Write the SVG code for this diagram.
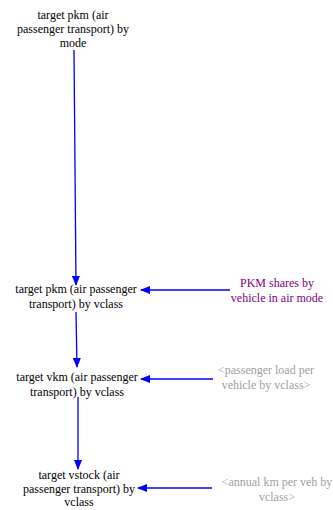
<svg xmlns="http://www.w3.org/2000/svg" width="333" height="510" viewBox="0 0 333 510">
<style>
text{font-family:"Liberation Serif","Times New Roman",serif;font-size:12px;text-anchor:middle}
.n{fill:#000}
.p{fill:#800080}
.g{fill:#a0a0a0}
.c{stroke:#0000ff;stroke-width:1.3;fill:none;marker-end:url(#ah)}
</style>
<defs>
<marker id="ah" markerWidth="10" markerHeight="8" refX="9" refY="4" orient="auto" markerUnits="userSpaceOnUse">
<path d="M0,0 L10,4 L0,8 Z" fill="#0000ff"/>
</marker>
</defs>
<rect width="333" height="510" fill="#fff"/>
<g id="connectors">
<path class="c" d="M74,50 L76,285"/>
<path class="c" d="M230,290 L141,290"/>
<path class="c" d="M76,312 L77,367"/>
<path class="c" d="M213,379 L141,379"/>
<path class="c" d="M78,397 L78,469"/>
<path class="c" d="M212,488 L138,488"/>
</g>
<g id="n1"><text class="n" x="73" y="19">target pkm (air</text><text class="n" x="73" y="33">passenger transport) by</text><text class="n" x="73" y="47">mode</text></g>
<g id="n2"><text class="n" x="76" y="293">target pkm (air passenger</text><text class="n" x="76" y="308">transport) by vclass</text></g>
<g id="n3"><text class="p" x="277" y="287">PKM shares by</text><text class="p" x="277" y="302">vehicle in air mode</text></g>
<g id="n4"><text class="n" x="77" y="381">target vkm (air passenger</text><text class="n" x="77" y="396">transport) by vclass</text></g>
<g id="n5"><text class="g" x="266" y="374">&lt;passenger load per</text><text class="g" x="266" y="389">vehicle by vclass&gt;</text></g>
<g id="n6"><text class="n" x="79" y="479">target vstock (air</text><text class="n" x="79" y="493">passenger transport) by</text><text class="n" x="79" y="506">vclass</text></g>
<g id="n7"><text class="g" x="277" y="486">&lt;annual km per veh by</text><text class="g" x="277" y="501">vclass&gt;</text></g>
</svg>
